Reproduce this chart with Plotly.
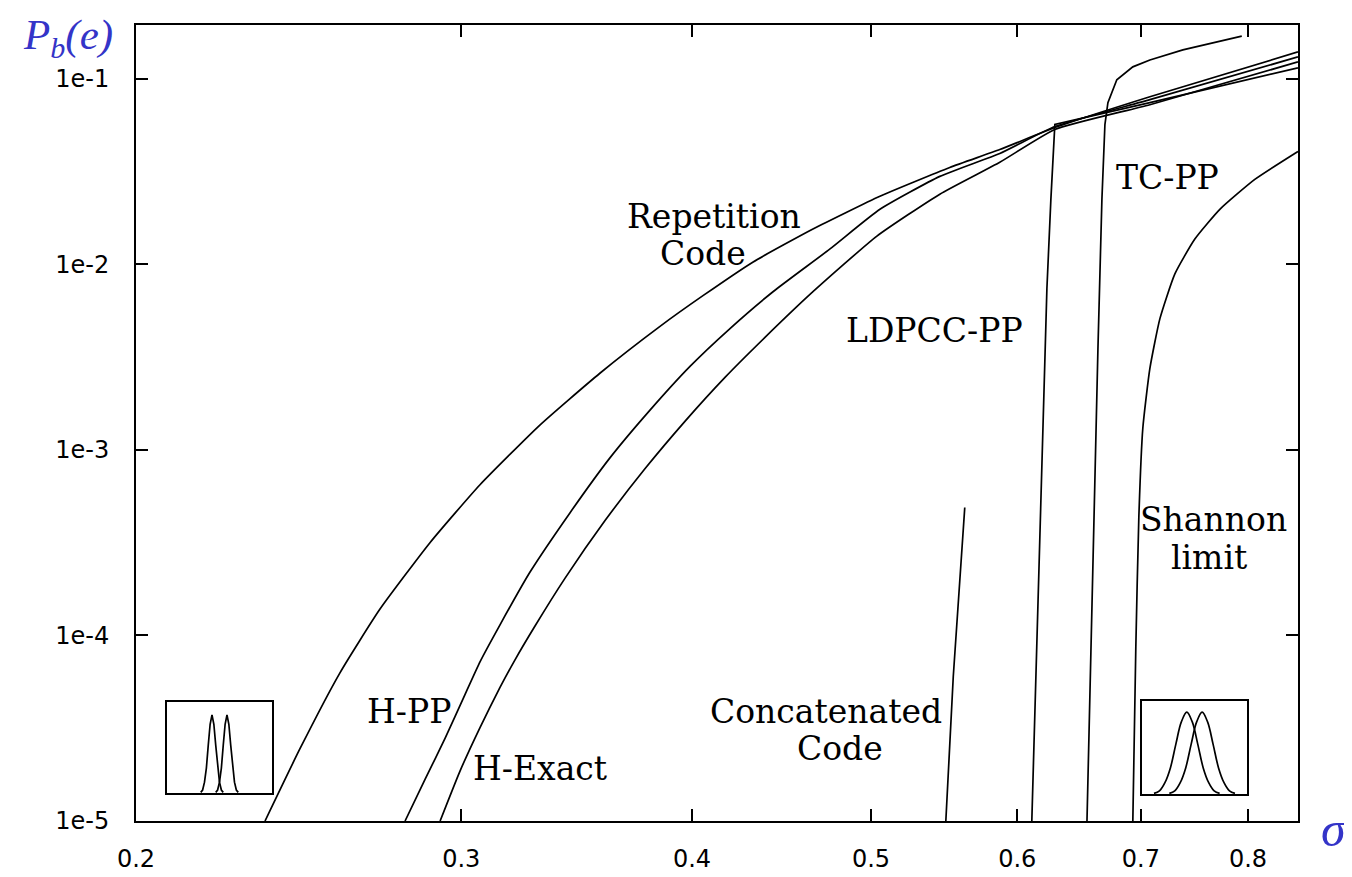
import plotly.graph_objects as go

# ---------------- data ----------------
rep_x = [0.2349, 0.2454, 0.2579, 0.2711, 0.2886, 0.3071, 0.3309, 0.3566, 0.3842, 0.4055,
         0.4317, 0.4651, 0.5056, 0.5516, 0.5871, 0.6288, 0.7079, 0.8514]
rep_y = [1e-5, 2.46e-5, 6.29e-5, 1.387e-4, 3.17e-4, 6.49e-4, 1.361e-3, 2.59e-3, 4.62e-3, 6.78e-3,
         1.031e-2, 1.55e-2, 2.33e-2, 3.33e-2, 4.16e-2, 5.46e-2, 8.01e-2, 0.1396]

hpp_x = [0.2797, 0.2868, 0.2940, 0.3014, 0.3071, 0.3148, 0.3268, 0.3436, 0.3611, 0.3796,
         0.3990, 0.4194, 0.4425, 0.4751, 0.5056, 0.5448, 0.5871, 0.6288, 0.7079, 0.8514]
hpp_y = [1e-5, 1.68e-5, 2.79e-5, 4.80e-5, 7.21e-5, 1.138e-4, 2.19e-4, 4.59e-4, 9.06e-4, 1.639e-3,
         2.82e-3, 4.51e-3, 7.12e-3, 1.211e-2, 1.98e-2, 2.98e-2, 3.96e-2, 5.53e-2, 7.72e-2, 0.1312]

hex_x = [0.2922, 0.2995, 0.3071, 0.3148, 0.3208, 0.3289, 0.3414, 0.3589, 0.3772, 0.3966,
         0.4168, 0.4381, 0.4651, 0.5037, 0.5448, 0.5871, 0.6288, 0.7079, 0.8514]
hex_y = [1e-5, 1.853e-5, 3.19e-5, 5.23e-5, 7.39e-5, 1.124e-4, 2.03e-4, 4.16e-4, 7.91e-4, 1.430e-3,
         2.46e-3, 4.04e-3, 7.12e-3, 1.42e-2, 2.39e-2, 3.55e-2, 5.33e-2, 7.25e-2, 0.1233]

ldpc_x = [0.6110, 0.6148, 0.6187, 0.6226, 0.6257, 0.6288, 0.7079, 0.8514]
ldpc_y = [1e-5, 9.82e-5, 1.025e-3, 7.39e-3, 2.24e-2, 5.67e-2, 7.44e-2, 0.1146]

tc_x = [0.6545, 0.6594, 0.6635, 0.6668, 0.6693, 0.6718, 0.6752, 0.6793, 0.6930, 0.7079, 0.7376, 0.7938]
tc_y = [1e-5, 2.98e-4, 3.52e-3, 2.24e-2, 5.67e-2, 7.44e-2, 8.41e-2, 9.88e-2, 0.1160, 0.1264, 0.1431, 0.1700]

shan_x = [0.6930, 0.6956, 0.6982, 0.7017, 0.7079, 0.7168, 0.7303, 0.7487, 0.7724, 0.8068, 0.8514]
shan_y = [1e-5, 8.68e-5, 4.32e-4, 1.312e-3, 2.75e-3, 5.10e-3, 8.89e-3, 1.37e-2, 1.98e-2, 2.87e-2, 4.06e-2]

conc_x = [0.5489, 0.5540, 0.5620]
conc_y = [1e-5, 5.99e-5, 4.89e-4]

x_ticks = [0.2, 0.3, 0.4, 0.5, 0.6, 0.7, 0.8]
x_tick_text = ["0.2", "0.3", "0.4", "0.5", "0.6", "0.7", "0.8"]
y_ticks = [1e-5, 1e-4, 1e-3, 1e-2, 1e-1]
y_tick_text = ["1e-5", "1e-4", "1e-3", "1e-2", "1e-1"]

# inset bell shapes (two shifted densities)
bell_u = [-3, -2.5, -2, -1.5, -1, -0.5, 0, 0.5, 1, 1.5, 2, 2.5, 3]
bell_h = [0.01, 0.04, 0.14, 0.32, 0.61, 0.88, 1.0, 0.88, 0.61, 0.32, 0.14, 0.04, 0.01]
left_inset_centers = [-2.0, 2.0]
right_inset_centers = [-0.7, 0.7]

labels = [
    ("Repetition", 0.4974, 0.7588),
    ("Code", 0.4880, 0.7125),
    ("LDPCC-PP", 0.6876, 0.6163),
    ("TC-PP", 0.8873, 0.8088),
    ("Shannon", 0.9277, 0.3788),
    ("limit", 0.9234, 0.3313),
    ("H-PP", 0.2349, 0.1375),
    ("H-Exact", 0.3477, 0.0663),
    ("Concatenated", 0.5938, 0.1375),
    ("Code", 0.6059, 0.0913),
]

# ---------------- figure ----------------
fig = go.Figure()
for xs, ys, shape in [(rep_x, rep_y, "spline"), (hpp_x, hpp_y, "spline"), (hex_x, hex_y, "spline"),
                      (ldpc_x, ldpc_y, "linear"), (tc_x, tc_y, "linear"),
                      (shan_x, shan_y, "spline"), (conc_x, conc_y, "linear")]:
    fig.add_trace(go.Scatter(x=xs, y=ys, mode="lines", showlegend=False, hoverinfo="skip",
                             line=dict(color="black", width=1.7, shape=shape, smoothing=0.5)))

for c in left_inset_centers:
    fig.add_trace(go.Scatter(x=[u + c for u in bell_u], y=bell_h, mode="lines",
                             line=dict(color="black", width=1.7), xaxis="x2", yaxis="y2",
                             showlegend=False, hoverinfo="skip"))
for c in right_inset_centers:
    fig.add_trace(go.Scatter(x=[u + c for u in bell_u], y=bell_h, mode="lines",
                             line=dict(color="black", width=1.7, shape="spline"),
                             xaxis="x3", yaxis="y3", showlegend=False, hoverinfo="skip"))

tickfont = dict(family="DejaVu Sans", size=24, color="black")
inset_axis = dict(showline=True, mirror=True, linecolor="black", linewidth=1.5,
                  showticklabels=False, ticks="", showgrid=False, zeroline=False)
fig.update_layout(
    width=1352, height=877,
    margin=dict(l=128, r=62, t=17, b=60),
    paper_bgcolor="white", plot_bgcolor="white",
    xaxis=dict(type="log", range=[-0.69897, -0.06984], tickvals=x_ticks, ticktext=x_tick_text,
               ticks="inside", ticklen=12, tickwidth=1.5, tickcolor="black",
               showline=True, linecolor="black", linewidth=2, mirror="ticks",
               showgrid=False, zeroline=False, tickfont=tickfont, ticklabelstandoff=15),
    yaxis=dict(type="log", range=[-5, -0.71], tickvals=y_ticks, ticktext=y_tick_text,
               ticks="inside", ticklen=12, tickwidth=1.5, tickcolor="black",
               showline=True, linecolor="black", linewidth=2, mirror="ticks",
               showgrid=False, zeroline=False, tickfont=tickfont, ticklabelstandoff=20),
    xaxis2=dict(domain=[0.0267, 0.1170], range=[-14, 14], anchor="y2", **inset_axis),
    yaxis2=dict(domain=[0.035, 0.15], range=[0, 1.17], anchor="x2", **inset_axis),
    xaxis3=dict(domain=[0.8657, 0.9561], range=[-4.8, 4.8], anchor="y3", **inset_axis),
    yaxis3=dict(domain=[0.03375, 0.15125], range=[0, 1.14], anchor="x3", **inset_axis),
)

for txt, px, py in labels:
    fig.add_annotation(text=txt, x=px, y=py, xref="paper", yref="paper", showarrow=False,
                       xanchor="center", yanchor="middle",
                       font=dict(family="DejaVu Serif", size=33, color="black"))

blue = "#3434c8"
fig.add_annotation(text="<i>P</i><sub><i>b</i></sub><i>(e)</i>", x=-0.0585, y=1.02,
                   xref="paper", yref="paper", showarrow=False, xanchor="center",
                   yanchor="top", font=dict(family="Liberation Serif", size=43, color=blue))
fig.add_annotation(text="<i>σ</i>", x=1.0318, y=-0.01, xref="paper", yref="paper",
                   showarrow=False, xanchor="center", yanchor="middle",
                   font=dict(family="Liberation Serif", size=50, color=blue))

fig.write_html("out.html")
